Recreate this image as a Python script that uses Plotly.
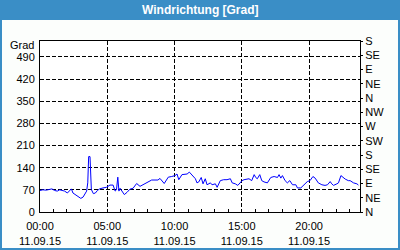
import plotly.graph_objects as go

day = "2015-09-11"
times = ["00:00","00:13","00:28","00:43","00:53","01:05","01:17","01:28","01:38","01:50",
         "02:02","02:13","02:20","02:27","02:37","02:50","03:02","03:12","03:19","03:28",
         "03:33","03:37","03:43","03:46","03:49","03:58","04:07","04:16","04:26","04:41",
         "04:56","05:12","05:26","05:35","05:41","05:47","05:52","05:57","06:16","06:28",
         "06:41","06:55","07:11","07:26","07:48","08:02","08:18","08:46","08:55","09:14",
         "09:32","09:47","10:02","10:11","10:19","10:33","10:56","11:06","11:18","11:33",
         "11:40","11:48","11:59","12:07","12:17","12:25","12:40","12:47","13:02","13:10",
         "13:24","13:39","13:54","14:09","14:17","14:31","14:42","14:53","15:01","15:10",
         "15:32","15:44","15:55","16:02","16:09","16:20","16:29","16:39","16:54","17:09",
         "17:24","17:39","17:46","17:54","18:01","18:13","18:23","18:34","18:46","19:01",
         "19:08","19:23","19:38","19:52","20:04","20:17","20:27","20:41","20:57","21:11",
         "21:22","21:34","21:41","21:49","22:04","22:11","22:22","22:33","22:41","22:55",
         "23:03","23:18","23:33","23:40"]
values = [68,70,69,70,73,68,66,70,68,66,
          60,70,73,60,55,47,43,47,55,66,
          92,175,175,92,71,58,60,68,73,76,
          78,85,85,66,70,110,66,75,55,62,
          72,75,90,81,90,95,101,101,106,90,
          110,112,115,120,102,118,120,126,118,105,
          92,95,109,89,105,86,92,86,89,78,
          99,102,102,105,92,89,84,95,99,102,
          105,99,118,109,105,118,99,95,92,109,
          112,109,118,107,115,99,92,99,86,86,
          76,76,86,96,99,112,107,92,86,84,
          86,96,89,84,89,92,115,107,104,99,
          99,92,89,85]

x_tick_hours = ["00:00", "05:00", "10:00", "15:00", "20:00"]
x_tick_text = [h + "<br>11.09.15" for h in x_tick_hours]
y_left_ticks = [0, 70, 140, 210, 280, 350, 420, 490]
y_right_ticks = [0, 45, 90, 135, 180, 225, 270, 315, 360, 405, 450, 495, 540]
y_right_text = ["N", "NE", "E", "SE", "S", "SW", "W", "NW", "N", "NE", "E", "SE", "S"]
title_text = "Windrichtung [Grad]"
unit_text = "Grad"

FONT = "Liberation Sans"
BLUE = "#3a8ec6"

fig = go.Figure()
fig.add_trace(go.Scatter(
    x=[f"{day} {t}" for t in times], y=values, mode="lines",
    line=dict(color="#0000ff", width=1), showlegend=False, hoverinfo="skip"))
fig.add_trace(go.Scatter(x=[f"{day} 00:00"], y=[0], yaxis="y2", mode="markers",
                         marker=dict(opacity=0), showlegend=False, hoverinfo="skip"))

fig.update_layout(
    width=400, height=250,
    margin=dict(l=40, r=40, t=41, b=38, autoexpand=False),
    paper_bgcolor="#fcfefc", plot_bgcolor="#ffffff",
    font=dict(family=FONT, size=11, color="#000000"),
    xaxis=dict(
        type="date", automargin=False,
        range=[f"{day} 00:00", f"{day} 23:47"],
        tickvals=[f"{day} {h}" for h in x_tick_hours], ticktext=x_tick_text,
        showgrid=True, gridcolor="#000000", griddash="4px,2px", gridwidth=1,
        showline=True, linecolor="#000000", linewidth=1, mirror=True,
        ticks="inside", ticklen=3, tickcolor="#000000", ticklabelstandoff=4,
        minor=dict(dtick=3600000, tick0=f"{day} 00:00", ticks="inside", ticklen=3,
                   tickcolor="#000000", showgrid=False),
        zeroline=False, fixedrange=True,
    ),
    yaxis=dict(
        range=[0, 540], tickvals=y_left_ticks, automargin=False,
        showgrid=True, gridcolor="#000000", griddash="4px,2px", gridwidth=1,
        showline=True, linecolor="#000000", linewidth=1, mirror=True,
        ticks="", zeroline=False, ticklabelstandoff=2,
    ),
    yaxis2=dict(
        range=[0, 540], overlaying="y", side="right", automargin=False,
        tickvals=y_right_ticks, ticktext=y_right_text,
        showgrid=False, showline=False, zeroline=False,
        ticks="outside", ticklen=2, tickcolor="#000000", ticklabelstandoff=0,
    ),
    shapes=[
        dict(type="rect", xref="paper", yref="paper",
             x0=-40/320, x1=360/320, y0=(212-20)/171, y1=212/171,
             fillcolor=BLUE, line=dict(width=0), layer="below"),
        dict(type="rect", xref="paper", yref="paper",
             x0=-39/320, x1=359/320, y0=(212-249)/171, y1=212/171,
             fillcolor="rgba(0,0,0,0)", line=dict(color=BLUE, width=2)),
    ],
    annotations=[
        dict(text=f"<b>{title_text}</b>", xref="paper", yref="paper",
             x=0.5, y=(212-10)/171, xanchor="center", yanchor="middle",
             showarrow=False, font=dict(family=FONT, size=12, color="#ffffff")),
        dict(text=unit_text, xref="paper", yref="paper",
             x=-4/320, y=(212-44.5)/171, xanchor="right", yanchor="middle",
             showarrow=False, font=dict(family=FONT, size=11, color="#000000")),
    ],
)

fig.write_html("out.html")
